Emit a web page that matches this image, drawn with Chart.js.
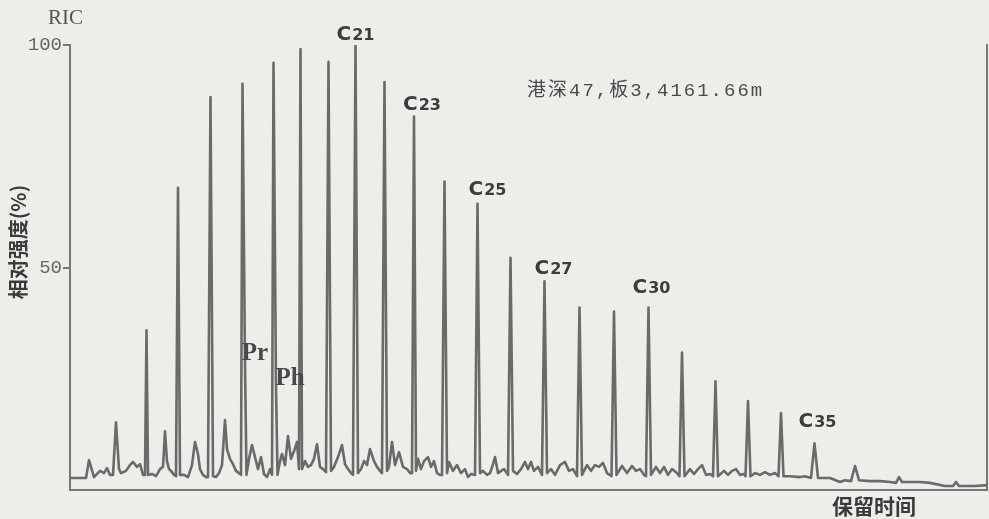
<!DOCTYPE html>
<html>
<head>
<meta charset="utf-8">
<script src="https://cdn.jsdelivr.net/npm/chart.js@4"></script>
<style>
html, body { margin: 0; padding: 0; background: #ededea; }
#wrap { width: 989px; height: 519px; }
</style>
</head>
<body>
<div id="wrap"><canvas id="ric" width="989" height="519"></canvas></div>
<script>
// background trace (baseline + unresolved small peaks), retention in scan units, intensity in %
const traceRt = [0, 16, 19, 24, 30, 34, 37, 40, 43, 49, 51, 56, 60, 63, 67, 70, 73, 75, 78, 82, 86, 90, 93, 95, 97, 99,
	101, 104, 106, 110, 114, 118, 122, 125, 128, 130, 133, 136, 138, 143, 146, 149, 152, 155, 157, 160, 163, 166, 169, 171,
	176.5, 179, 182, 185, 188, 191, 194, 197, 200, 202, 207.5, 210, 212, 215, 218, 221, 224, 227, 229,
	232, 235, 238, 241, 244, 247, 250, 253, 256, 261, 264, 268, 272, 275, 278, 281, 283,
	288, 291, 294, 297, 300, 304, 307, 310, 312, 317, 319, 322, 325, 329, 333, 337, 340, 342,
	346, 348, 351, 354, 358, 361, 364, 367, 370, 372, 377, 379, 383, 387, 391, 395, 398, 401, 405,
	410, 413, 417, 420, 423, 425, 428, 431, 434, 438, 443, 447, 451, 455, 458, 461, 464, 468, 472,
	477, 481, 485, 490, 495, 499, 503, 507, 512, 517, 521, 525, 529, 533, 537, 541.5,
	546.5, 552, 557, 562, 566, 570, 574, 576, 581, 586, 590, 594, 598, 602, 607, 609.5,
	614.5, 620, 624, 628, 632, 636, 640, 643, 648, 654, 658, 662, 666, 670, 674, 675.5,
	680.5, 685, 690, 695, 700, 705, 708.5, 713.5, 720, 730, 735, 741, 748, 760, 770, 775, 781,
	789, 800, 810, 820, 826, 829, 832, 850, 860, 875, 883, 886, 889, 905, 917];
const traceInt = [2.7, 2.7, 6.7, 2.9, 4.3, 3.8, 4.9, 3.4, 3.4, 4.7, 3.8, 4.3, 5.6, 6.3, 5.2, 5.8, 3.4, 3.4, 3.4, 3.6, 3.1, 4.7, 5.2, 13.2, 6.5, 4.7,
	4.3, 3.4, 3.1, 3.4, 3.4, 2.9, 5.6, 10.8, 8.1, 4.7, 3.4, 2.9, 2.9, 3.1, 2.9, 3.8, 5.6, 15.7, 9.2, 7.0, 5.8, 4.3, 3.8, 3.4,
	3.4, 7.0, 10.1, 7.4, 4.7, 7.4, 3.6, 2.9, 4.7, 3.4, 3.4, 6.5, 8.1, 5.6, 12.1, 7.0, 8.7, 10.8, 4.7,
	4.7, 6.5, 5.2, 5.6, 7.0, 10.3, 5.2, 4.7, 4.0, 4.3, 5.2, 7.4, 10.1, 5.8, 4.7, 3.8, 3.4,
	3.8, 4.7, 6.5, 5.6, 9.2, 6.5, 5.2, 4.3, 3.8, 4.3, 5.2, 10.8, 5.6, 8.5, 5.2, 4.7, 3.8, 3.8,
	4.3, 7.0, 4.7, 6.5, 7.4, 5.2, 6.5, 3.8, 3.4, 3.4, 3.8, 6.3, 4.3, 5.6, 3.8, 4.7, 2.9, 3.6, 3.4,
	3.8, 4.3, 3.4, 3.8, 5.8, 7.4, 3.8, 4.3, 4.7, 3.4, 4.3, 3.6, 4.7, 6.3, 4.7, 6.3, 4.3, 5.2, 3.4,
	3.8, 4.7, 3.4, 5.6, 6.3, 4.3, 4.7, 3.1, 3.4, 5.6, 4.3, 5.6, 5.2, 6.1, 3.8, 3.1,
	3.4, 5.4, 3.8, 5.4, 4.3, 4.7, 3.4, 3.1, 3.4, 5.2, 3.8, 5.2, 3.4, 4.7, 3.8, 3.1,
	3.1, 4.7, 3.6, 4.7, 5.6, 3.4, 3.6, 3.1, 3.1, 4.3, 3.4, 4.3, 4.7, 3.4, 3.6, 3.1,
	3.1, 3.8, 3.4, 4.0, 3.4, 3.8, 3.1, 3.1, 3.1, 2.9, 3.1, 2.7, 2.7, 2.7, 1.8, 2.2, 2.0,
	2.2, 2.0, 2.0, 1.8, 1.6, 2.9, 1.8, 1.8, 1.6, 0.9, 0.9, 1.8, 0.9, 0.9, 1.1];

// resolved peaks: n-alkanes plus pristane / phytane
const peakName = ['C13', 'C14', 'C15', 'C16', 'C17', 'Pr', 'C18', 'Ph', 'C19', 'C20', 'C21', 'C22', 'C23', 'C24',
	'C25', 'C26', 'C27', 'C28', 'C29', 'C30', 'C31', 'C32', 'C33', 'C34', 'C35', 'C36'];
const peakRt = [46, 76.5, 108, 140.5, 172.5, 175, 203.5, 206, 230.5, 258.5, 285.5, 314.5, 344, 374.5,
	407.5, 440.5, 474.5, 509.5, 544, 578.5, 612, 645.5, 678, 711, 744.5, 785];
const peakInt = [15.2, 35.9, 67.9, 88.3, 91.3, 28.3, 96.0, 23.1, 99.1, 96.2, 100, 91.7, 83.9, 69.3,
	64.3, 52.2, 46.9, 41.0, 40.1, 41.0, 30.9, 24.4, 20.0, 17.3, 10.5, 5.4];

const yTicks = [50, 100];

// merge background and peaks into one trace sorted by retention
var trace = [];
traceRt.forEach((t, i) => trace.push({ x: t, y: traceInt[i] }));
peakRt.forEach((t, i) => trace.push({ x: t, y: peakInt[i] }));
trace.sort((a, b) => a.x - b.x);

var axisColor = '#777777';

// label offsets (px) from the peak apex
var peakLabels = {
	'C21': { dx: 0, dy: -5 },
	'C23': { dx: 8, dy: -7 },
	'C25': { dx: 10, dy: -9 },
	'C27': { dx: 9, dy: -7 },
	'C30': { dx: 3, dy: -15 },
	'C35': { dx: 3, dy: -16 },
	'Pr': { dx: 10, dy: -4 },
	'Ph': { dx: 14, dy: -2 }
};

const textPlugin = {
	id: 'ricText',
	afterDraw(chart) {
		const ctx = chart.ctx;
		const a = chart.chartArea;
		const xs = chart.scales.x, ys = chart.scales.y;
		ctx.save();
		ctx.textBaseline = 'alphabetic';

		// peak labels
		peakName.forEach((name, i) => {
			const st = peakLabels[name];
			if (!st) return;
			const px = xs.getPixelForValue(peakRt[i]) + st.dx;
			const py = ys.getPixelForValue(peakInt[i]) + st.dy;
			if (name === 'Pr' || name === 'Ph') {
				ctx.font = 'bold 25px "Liberation Serif"';
				ctx.fillStyle = '#484848';
				ctx.textAlign = 'center';
				ctx.fillText(name, px, py);
				return;
			}
			const big = '20px "DejaVu Sans"', small = '16px "DejaVu Sans"';
			ctx.font = 'bold ' + big;
			const wC = ctx.measureText('C').width;
			ctx.font = 'bold ' + small;
			const num = name.substring(1);
			const wN = ctx.measureText(num).width;
			const left = px - (wC + wN + 1) / 2;
			ctx.fillStyle = '#3c3c3c';
			ctx.textAlign = 'left';
			ctx.font = 'bold ' + big;
			ctx.fillText('C', left, py);
			ctx.font = 'bold ' + small;
			ctx.fillText(num, left + wC + 1, py);
		});

		// RIC caption
		ctx.fillStyle = '#555555';
		ctx.textAlign = 'left';
		ctx.font = '21px "Liberation Serif"';
		ctx.fillText('RIC', a.left - 22, a.top - 21);

		// sample caption
		ctx.font = '19px "Liberation Mono", "Noto Sans CJK SC"';
		ctx.letterSpacing = '2px';
		ctx.fillStyle = '#4a4a4a';
		ctx.fillText('港深47,板3,4161.66m', a.left + 457, a.top + 51);
		ctx.letterSpacing = '0px';

		// axis titles
		ctx.fillStyle = '#3a3a3a';
		ctx.font = 'bold 20px "Noto Sans CJK SC"';
		ctx.textAlign = 'center';
		ctx.textBaseline = 'middle';
		ctx.save();
		ctx.translate(a.left - 52, a.top + 197);
		ctx.rotate(-Math.PI / 2);
		ctx.fillText('相对强度(%)', 0, 0);
		ctx.restore();

		ctx.font = 'bold 21px "Noto Sans CJK SC"';
		ctx.textAlign = 'right';
		ctx.fillText('保留时间', a.right - 71, a.bottom + 16);
		ctx.restore();
	}
};

new Chart(document.getElementById('ric'), {
	type: 'line',
	data: {
		datasets: [{
			data: trace,
			borderColor: '#6a6a6a',
			borderWidth: 2.6,
			borderJoinStyle: 'round',
			pointRadius: 0,
			tension: 0,
			fill: false
		}]
	},
	options: {
		responsive: false,
		animation: false,
		devicePixelRatio: 1,
		layout: { padding: { top: 45, right: 0, bottom: 0, left: 0 } },
		plugins: { legend: { display: false }, tooltip: { enabled: false } },
		scales: {
			x: {
				type: 'linear',
				min: 0,
				max: 917,
				ticks: { display: false },
				grid: { display: false },
				border: { display: true, color: axisColor, width: 2 },
				afterFit: function (s) { s.height = 29; }
			},
			y: {
				min: 0,
				max: 100,
				afterBuildTicks: function (s) { s.ticks = yTicks.map(v => ({ value: v })); },
				ticks: { color: '#666666', padding: 1, font: { family: 'Liberation Mono', size: 19 } },
				grid: { drawOnChartArea: false, drawTicks: true, tickLength: 7, color: axisColor, lineWidth: 2 },
				border: { display: true, color: axisColor, width: 2 },
				afterFit: function (s) { s.width = 70; }
			},
			yR: {
				position: 'right',
				min: 0,
				max: 100,
				ticks: { display: false },
				grid: { display: false },
				border: { display: true, color: axisColor, width: 2 },
				afterFit: function (s) { s.width = 2; }
			}
		}
	},
	plugins: [textPlugin]
});
</script>
</body>
</html>
